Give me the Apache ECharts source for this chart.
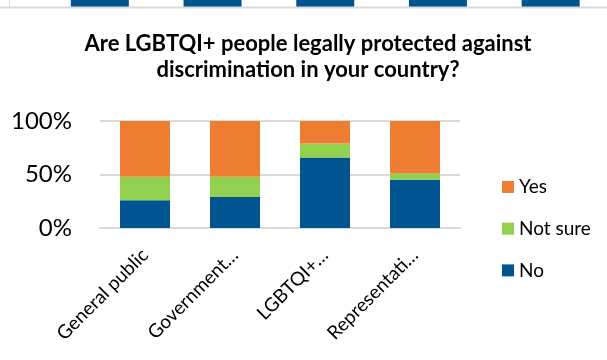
<!DOCTYPE html>
<html>
<head>
<meta charset="utf-8">
<script src="https://cdn.jsdelivr.net/npm/echarts@6/dist/echarts.min.js"></script>
<style>
  html, body { margin: 0; padding: 0; background: #fff; }
  #chart { width: 607px; height: 360px; }
</style>
</head>
<body>
<div id="chart"></div>
<script>
// Survey groups and answer shares (percent)
const categories = ['General public', 'Government\u2026', 'LGBTQI+\u2026', 'Representati\u2026'];
const noValues = [26, 29, 66, 45];
const notSureValues = [22, 19, 13, 6];
const yesValues = [52, 52, 21, 49];
const yTicks = [0, 50, 100];

// Strip of the neighbouring chart's bars along the top edge (cut off by the frame)
const stripCategories = ['a', 'b', 'c', 'd', 'e'];
const stripValues = [60, 55, 70, 50, 65];

const FONT = 'Lato';
const chart = echarts.init(document.getElementById('chart'));

chart.setOption({
  animation: false,
  textStyle: { fontFamily: FONT },
  title: {
    text: 'Are LGBTQI+ people legally protected against\ndiscrimination in your country?',
    left: 308,
    textAlign: 'center',
    top: 31,
    padding: 0,
    textStyle: { fontFamily: FONT, fontSize: 22, fontWeight: 'bold', color: '#000', lineHeight: 26 }
  },
  legend: {
    orient: 'vertical',
    left: 497,
    top: 172,
    icon: 'rect',
    itemWidth: 12,
    itemHeight: 12,
    itemGap: 21.7,
    data: ['Yes', 'Not sure', 'No'],
    textStyle: { fontFamily: FONT, fontSize: 19, color: '#000', lineHeight: 20 }
  },
  graphic: [
    { type: 'line', shape: { x1: 0, y1: 7.5, x2: 607, y2: 7.5 }, style: { stroke: '#d9d9d9', lineWidth: 2 }, z: 10 },
    { type: 'line', shape: { x1: 9.5, y1: 0, x2: 9.5, y2: 7 }, style: { stroke: '#d9d9d9', lineWidth: 1 }, z: 10 }
  ],
  grid: [
    { left: 100, right: 147, top: 121, bottom: 132 },
    { left: 43.5, width: 570, top: 0, height: 7 }
  ],
  xAxis: [
    {
      type: 'category',
      gridIndex: 0,
      data: categories,
      axisLine: { lineStyle: { color: '#d9d9d9', width: 2 } },
      axisTick: { show: false },
      axisLabel: { interval: 0, rotate: 45, fontSize: 19, color: '#000', margin: 24, fontFamily: FONT }
    },
    {
      type: 'category',
      gridIndex: 1,
      data: stripCategories,
      axisLine: { show: false },
      axisTick: { show: false },
      axisLabel: { show: false }
    }
  ],
  yAxis: [
    {
      type: 'value',
      gridIndex: 0,
      min: yTicks[0],
      max: yTicks[yTicks.length - 1],
      interval: yTicks[1] - yTicks[0],
      axisLine: { show: false },
      axisTick: { show: false },
      splitLine: { lineStyle: { color: '#d9d9d9', width: 2 } },
      axisLabel: { formatter: '{value}%', fontSize: 24, color: '#000', margin: 28, fontFamily: FONT }
    },
    {
      type: 'value',
      gridIndex: 1,
      min: 0,
      max: 10,
      show: false
    }
  ],
  series: [
    {
      name: 'No', type: 'bar', stack: 'total', data: noValues, barWidth: 50,
      itemStyle: { color: '#00548F' }
    },
    {
      name: 'Not sure', type: 'bar', stack: 'total', data: notSureValues, barWidth: 50,
      itemStyle: { color: '#92D050' }
    },
    {
      name: 'Yes', type: 'bar', stack: 'total', data: yesValues, barWidth: 50,
      itemStyle: { color: '#ED7D31' }
    },
    {
      name: 'strip', type: 'bar', xAxisIndex: 1, yAxisIndex: 1, data: stripValues, barWidth: 58,
      clip: true, silent: true,
      itemStyle: { color: '#00548F' }
    }
  ]
});
</script>
</body>
</html>
